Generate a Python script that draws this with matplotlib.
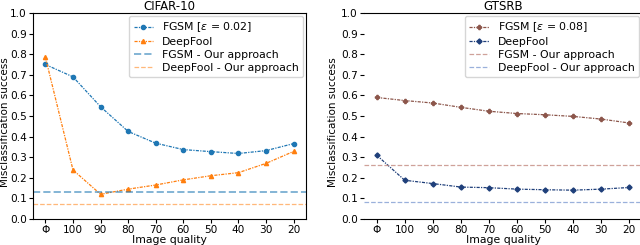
import numpy as np
import matplotlib
matplotlib.use("Agg")
import matplotlib.pyplot as plt

quality = ["Φ", "100", "90", "80", "70", "60", "50", "40", "30", "20"]

cifar_fgsm = [0.75, 0.69, 0.545, 0.425, 0.368, 0.337, 0.327, 0.318, 0.332, 0.366]
cifar_deepfool = [0.785, 0.238, 0.12, 0.145, 0.165, 0.19, 0.21, 0.225, 0.27, 0.328]
cifar_fgsm_ours = 0.13
cifar_deepfool_ours = 0.073

gtsrb_fgsm = [0.59, 0.575, 0.563, 0.542, 0.523, 0.512, 0.506, 0.498, 0.485, 0.466]
gtsrb_deepfool = [0.31, 0.188, 0.172, 0.155, 0.152, 0.145, 0.142, 0.14, 0.145, 0.153]
gtsrb_fgsm_ours = 0.26
gtsrb_deepfool_ours = 0.082

plt.rcParams["font.size"] = 7.6
dashdot = (0, (2.5, 1, 1, 1))

fig = plt.figure(figsize=(6.4, 2.45), dpi=100)
ax1 = fig.add_axes([33 / 640, 26 / 245, 273 / 640, 206 / 245])
ax2 = fig.add_axes([364 / 640, 26 / 245, 278 / 640, 206 / 245])

x = np.arange(len(quality))

ax1.plot(x, cifar_fgsm, color="tab:blue", ls=dashdot, lw=0.9, marker="o", ms=3,
         label=r"FGSM [$\varepsilon$ = 0.02]")
ax1.plot(x, cifar_deepfool, color="tab:orange", ls=dashdot, lw=0.9, marker="^", ms=3,
         label="DeepFool")
ax1.axhline(cifar_fgsm_ours, color="tab:blue", alpha=0.55, ls="--", lw=1.4,
            label="FGSM - Our approach")
ax1.axhline(cifar_deepfool_ours, color="tab:orange", alpha=0.55, ls="--", lw=0.9,
            label="DeepFool - Our approach")
ax1.set_title("CIFAR-10", pad=1, fontsize=8.5)

ax2.plot(x, gtsrb_fgsm, color="#8c564b", ls=dashdot, lw=0.9, marker="P", ms=3,
         label=r"FGSM [$\varepsilon$ = 0.08]")
ax2.plot(x, gtsrb_deepfool, color="#1f3f7a", ls=dashdot, lw=0.9, marker="D", ms=2.6,
         label="DeepFool")
ax2.axhline(gtsrb_fgsm_ours, color="#c48a80", alpha=0.8, ls="--", lw=0.9,
            label="FGSM - Our approach")
ax2.axhline(gtsrb_deepfool_ours, color="#8fa8d8", alpha=0.9, ls="--", lw=0.9,
            label="DeepFool - Our approach")
ax2.set_title("GTSRB", pad=1, fontsize=8.5)
ax2.spines["left"].set_visible(False)

for ax in (ax1, ax2):
    ax.set_ylim(0, 1.0)
    ax.set_yticks(np.arange(0, 1.01, 0.1))
    ax.set_xticks(x)
    ax.set_xticklabels(quality)
    ax.set_xlabel("Image quality", labelpad=0, fontsize=7.8)
    ax.set_ylabel("Misclassification success", fontsize=7.5)
    ax.tick_params(length=3, pad=1.5)
    ax.legend(loc="upper right", fontsize=7.8, handlelength=1.8, borderaxespad=0.3,
              labelspacing=0.25, handletextpad=0.8)
    ax.yaxis.label.set_va("center")

ax1.yaxis.set_label_coords(5.5 / 640, 0.5, transform=fig.transFigure)
ax2.yaxis.set_label_coords(333 / 640, 0.5, transform=fig.transFigure)

fig.savefig("out.png", dpi=100)
